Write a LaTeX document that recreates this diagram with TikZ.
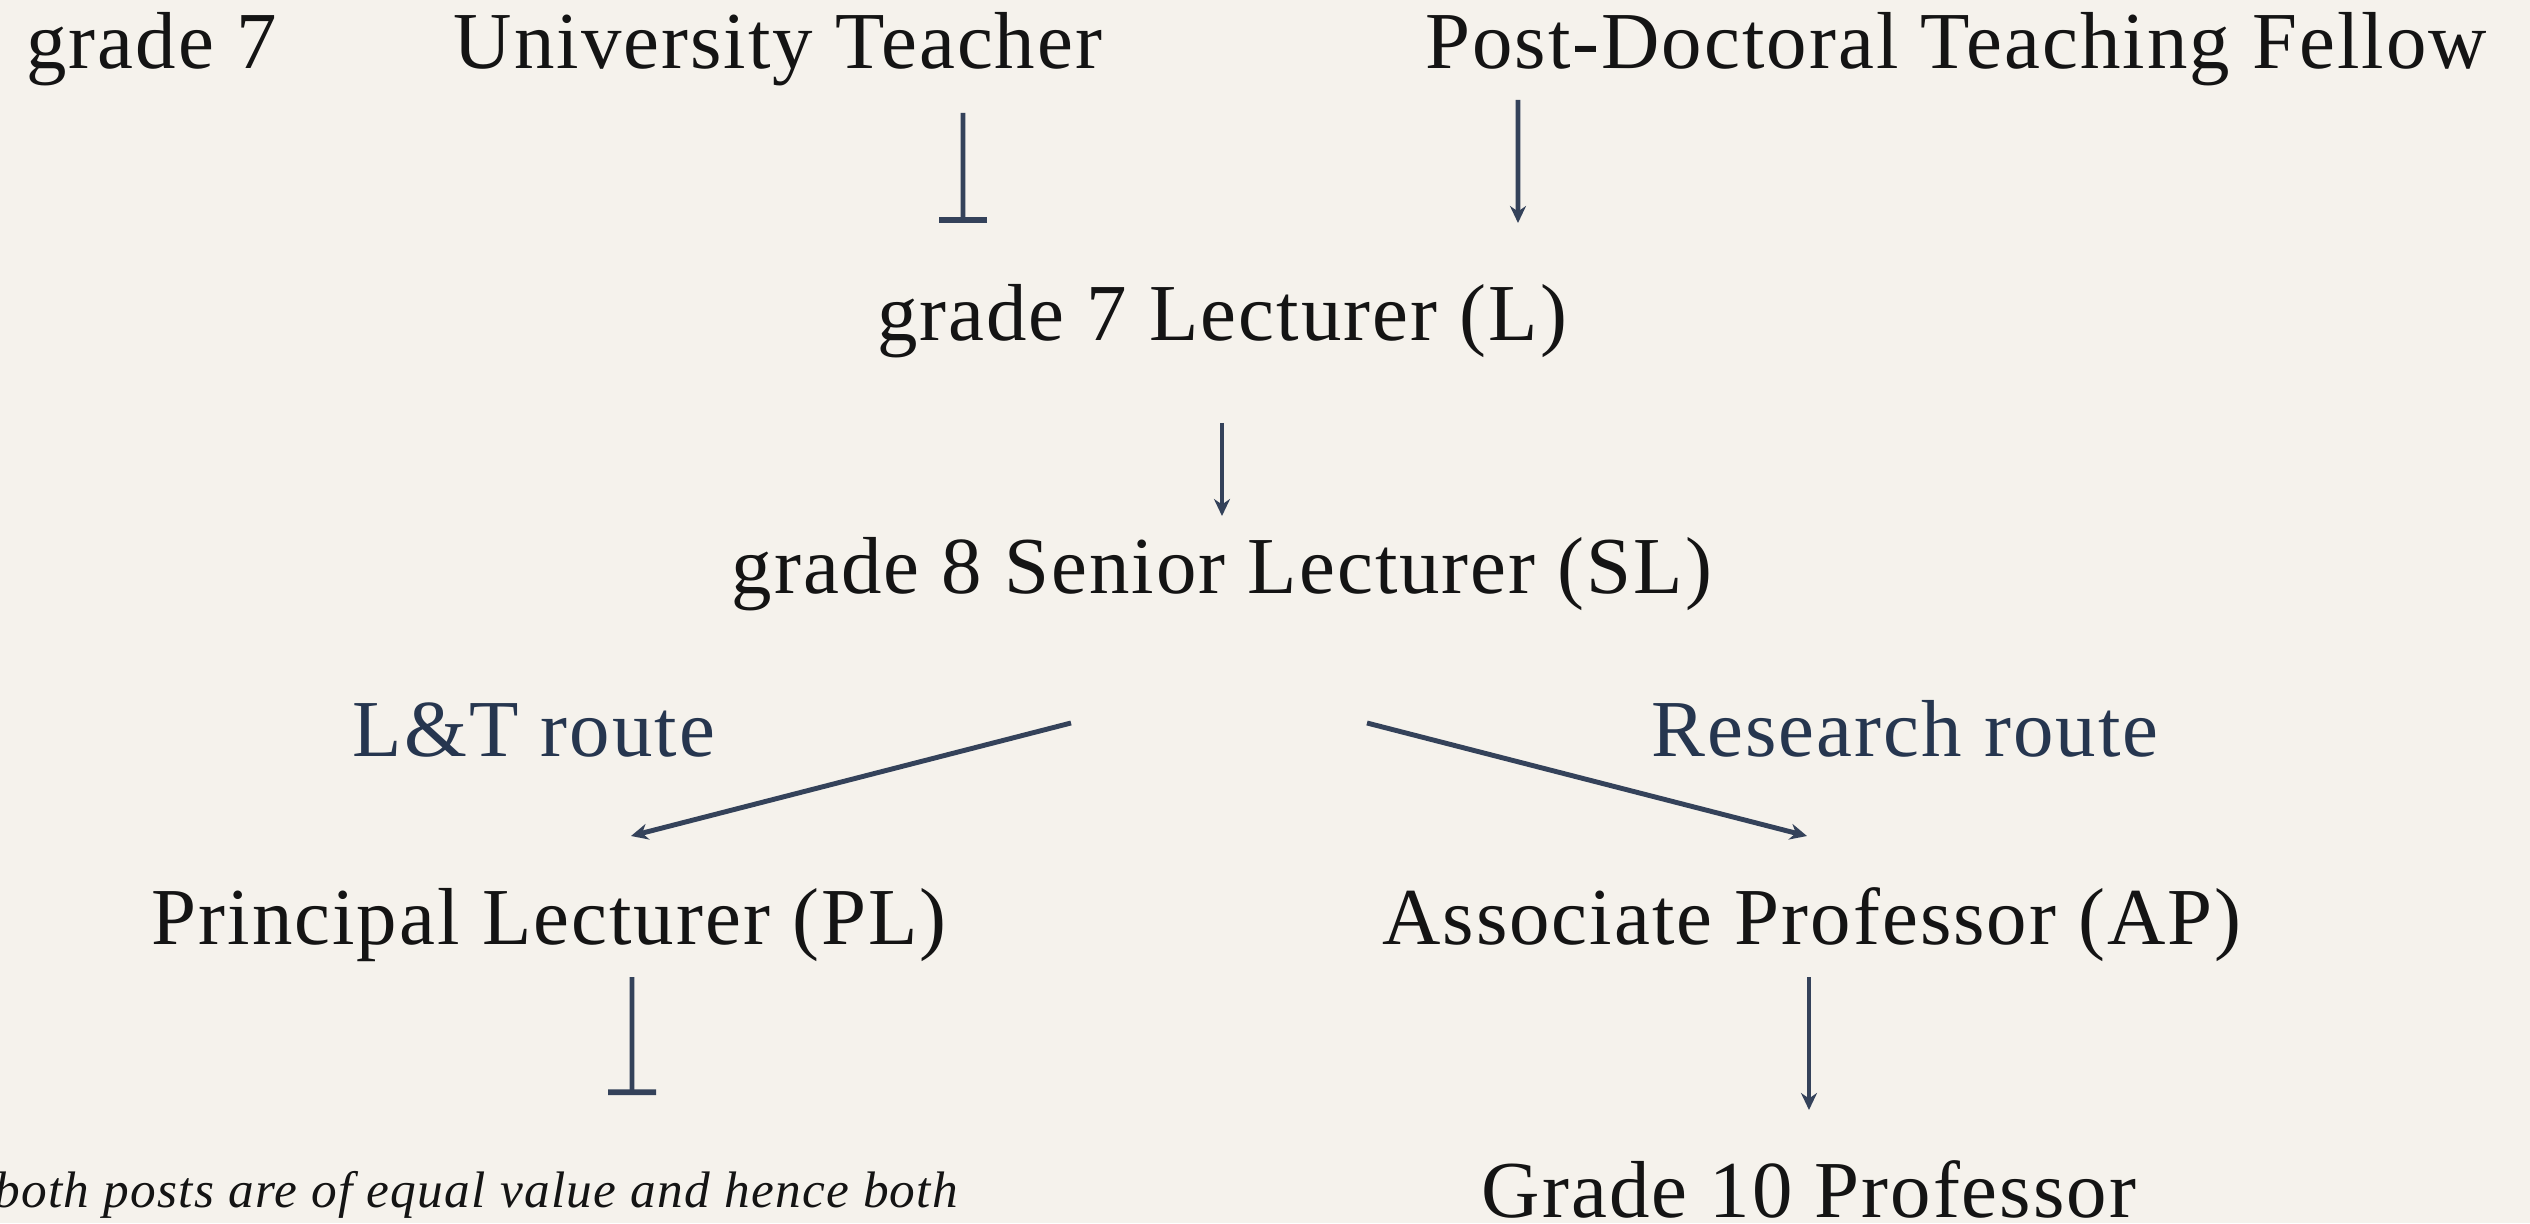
\documentclass[tikz,border=0pt]{standalone}
\usepackage{fontspec}
\setmainfont{Liberation Serif}[LetterSpace=2.5]
\usepackage{tikz}
\usetikzlibrary{arrows.meta}

\definecolor{pagebg}{HTML}{F5F2EC}
\definecolor{routeblue}{HTML}{26364F}
\definecolor{lineblue}{HTML}{34425A}

\begin{document}
\begin{tikzpicture}[>={Stealth[length=1.7mm,width=1.6mm]},line width=1.4pt,
                    post/.style={anchor=base,inner sep=0pt,text=black!92,font=\fontsize{23}{28}\selectfont},
                    route/.style={post,text=routeblue},
                    up arrow/.style={draw=lineblue,->},
                    stop line/.style={draw=lineblue,-{Bar[width=4.8mm,line width=1.6pt]}}]

  \fill[pagebg] (0,0) rectangle (25.30,12.23);
  \useasboundingbox (0,0) rectangle (25.30,12.23);

  \node[post,anchor=base west] (g7) at (0.24,11.54) {grade 7};
  \node[post] (ut) at (7.78,11.54) {University Teacher};
  \node[post] (pdtf) at (19.56,11.54) {Post-Doctoral Teaching Fellow};
  \node[post] (l) at (12.22,8.82) {grade 7 Lecturer (L)};
  \node[post] (sl) at (12.22,6.29) {grade 8 Senior Lecturer (SL)};
  \node[route] (lt) at (5.34,4.66) {L\&T route};
  \node[route] (rr) at (19.05,4.66) {Research route};
  \node[post] (pl) at (5.49,2.79) {Principal Lecturer (PL)};
  \node[post] (ap) at (18.12,2.79) {Associate Professor (AP)};
  \node[post] (prof) at (18.09,0.06) {Grade 10 Professor};
  \node[post,anchor=base west,font=\fontsize{14.6}{18}\selectfont\itshape] (note) at (-0.08,0.16)
    {both posts are of equal value and hence both};

  \path
    ([shift={(1.85,-0.44)}]ut.base) edge [stop line] ([shift={(-2.59,1.18)}]l.base)
    ([shift={(-4.38,-0.31)}]pdtf.base) edge [up arrow] ([shift={(2.96,1.18)}]l.base)
    ([shift={(0,-0.82)}]l.base) edge [up arrow] ([shift={(0,0.78)}]sl.base)
    ([shift={(-1.51,-1.29)}]sl.base) edge [up arrow] ([shift={(0.82,1.08)}]pl.base)
    ([shift={(1.45,-1.29)}]sl.base) edge [up arrow] ([shift={(-0.05,1.08)}]ap.base)
    ([shift={(0.83,-0.33)}]pl.base) edge [stop line] ([shift={(6.40,1.12)}]note.base west)
    ([shift={(-0.03,-0.33)}]ap.base) edge [up arrow] ([shift={(0,1.07)}]prof.base)
;
\end{tikzpicture}
\end{document}
